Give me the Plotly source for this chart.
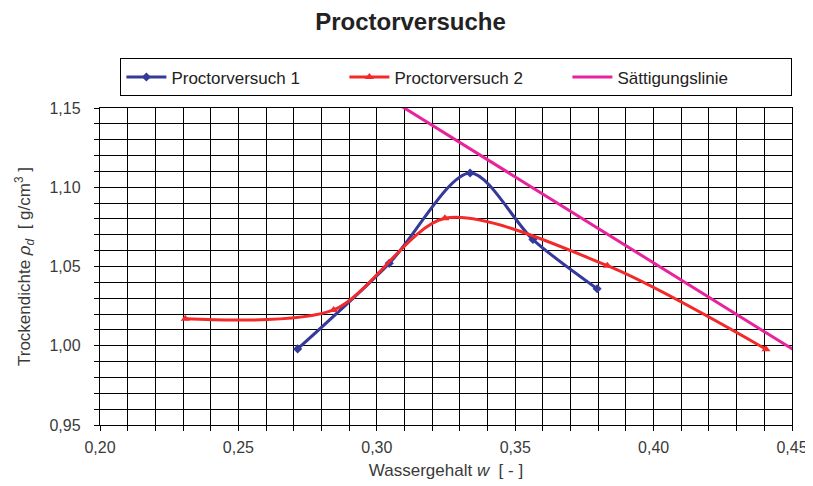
import plotly.graph_objects as go

# Proctorversuch 1 (water content w [-], dry density rho_d [g/cm3])
w_pv1 = [0.2714, 0.3045, 0.3337, 0.3564, 0.3796]
rho_pv1 = [0.998, 1.052, 1.109, 1.067, 1.036]

# Proctorversuch 2
w_pv2 = [0.2308, 0.2844, 0.3246, 0.3833, 0.4406]
rho_pv2 = [1.017, 1.0226, 1.0804, 1.0505, 0.9978]

# Sättigungslinie
w_sat = [0.30, 0.35, 0.40, 0.45, 0.46]
rho_sat = [1.1608, 1.1066, 1.0523, 0.9981, 0.9872]

BLUE = "#34399A"
RED = "#F22A2A"
MAGENTA = "#E8239C"
FONT = "Liberation Sans, Arial, sans-serif"

fig = go.Figure()

fig.add_trace(go.Scatter(
    x=w_pv1, y=rho_pv1, name="Proctorversuch 1",
    mode="lines+markers",
    line=dict(color=BLUE, width=3, shape="spline", smoothing=0.85),
    marker=dict(symbol="diamond", size=7, color=BLUE),
))
fig.add_trace(go.Scatter(
    x=w_pv2, y=rho_pv2, name="Proctorversuch 2",
    mode="lines+markers",
    line=dict(color=RED, width=3, shape="spline", smoothing=0.8),
    marker=dict(symbol="triangle-up", size=8, color=RED),
))
fig.add_trace(go.Scatter(
    x=w_sat, y=rho_sat, name="Sättigungslinie",
    mode="lines",
    line=dict(color=MAGENTA, width=3),
))

axis_common = dict(
    showgrid=True, gridcolor="black", gridwidth=1.4,
    showline=True, linecolor="black", linewidth=1.4, mirror=True,
    ticks="outside", ticklen=5, tickcolor="black", tickwidth=1.4,
    tickfont=dict(size=16, color="#3a3a3a", family=FONT),
    tickformat=".2f", zeroline=False, automargin=False,
    minor=dict(showgrid=True, gridcolor="black", gridwidth=1.4,
               ticks="outside", ticklen=5, tickcolor="black", tickwidth=1.4),
)

fig.update_xaxes(
    range=[0.20, 0.45], dtick=0.05, tick0=0.20,
    minor_dtick=0.01, ticklabelstandoff=3,
    title=dict(text="Wassergehalt <i>w</i>  [ - ]", standoff=8,
               font=dict(size=17, color="#3a3a3a", family=FONT)),
    **axis_common,
)
fig.update_yaxes(
    range=[0.95, 1.15], dtick=0.05, tick0=0.95,
    minor_dtick=0.01, ticklabelstandoff=10,
    title=dict(text="Trockendichte <i>ρ<sub>d</sub></i>  [ g/cm<sup>3</sup> ]", standoff=14,
               font=dict(size=17, color="#3a3a3a", family=FONT)),
    **axis_common,
)

# page body adds an 8px offset, so the figure is sized 8px smaller
fig.update_layout(
    width=805, height=478,
    margin=dict(l=92, r=21, t=100, b=61),
    paper_bgcolor="white", plot_bgcolor="white",
    separators=", ",
    font=dict(family=FONT, color="#222222"),
    title=dict(text="<b>Proctorversuche</b>", x=0.5, xanchor="center",
               y=0.971, yanchor="middle",
               font=dict(size=24, color="#222222", family=FONT)),
    legend=dict(
        orientation="h", xref="paper", yref="paper",
        x=20 / 692, xanchor="left", y=1 + 50 / 317, yanchor="top",
        bordercolor="black", borderwidth=1.4,
        itemwidth=40, entrywidth=168, entrywidthmode="pixels",
        font=dict(size=17, color="#222222", family=FONT),
    ),
    showlegend=True,
)

fig.write_html("out.html")
